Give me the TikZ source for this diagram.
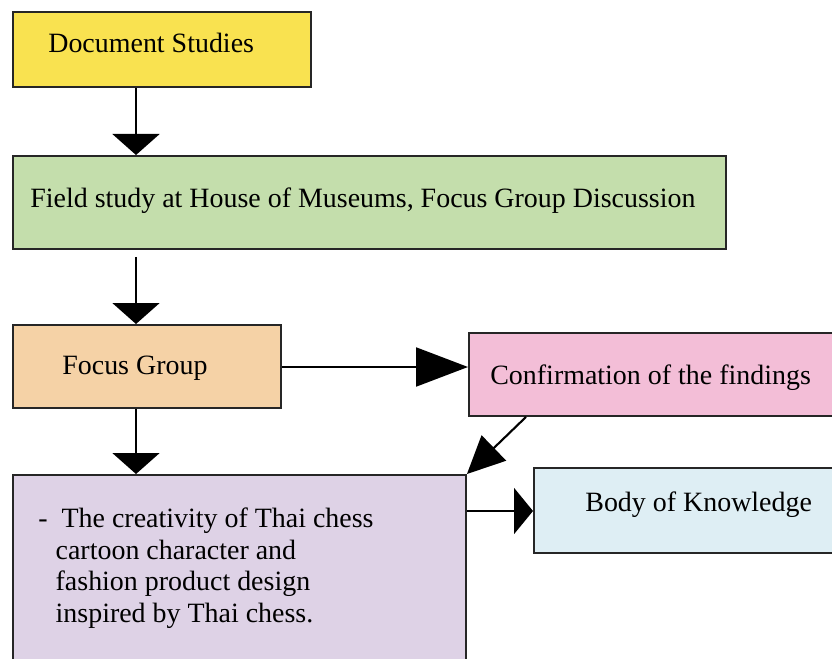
\documentclass[tikz,border=0pt]{standalone}
\usepackage{fontspec}
\setmainfont{Liberation Serif}
\usetikzlibrary{calc,arrows.meta}
\definecolor{docyellow}{RGB}{249,226,80}
\definecolor{fieldgreen}{RGB}{196,222,172}
\definecolor{focusorange}{RGB}{245,210,166}
\definecolor{confpink}{RGB}{243,190,215}
\definecolor{creatpurple}{RGB}{222,210,230}
\definecolor{bodyblue}{RGB}{222,238,244}
\tikzset{
  box/.style={draw=black!85, line width=1.1pt, rectangle, anchor=north west, inner sep=0pt},
  lbl/.style={anchor=west, inner sep=0pt, font=\fontsize{15.9}{18.2}\selectfont},
  flow/.style={line width=1.2pt, -{Triangle[width=0.94cm,length=0.42cm]}},
}

\begin{document}
\begin{tikzpicture}
\useasboundingbox (0,0) rectangle (16.64,13.16);
\clip (0,0) rectangle (16.64,13.16);
% boxes
\node[box, fill=docyellow, minimum width=5.96cm, minimum height=1.5cm] (doc) at (0.24,12.94) {};
\node[box, fill=fieldgreen, minimum width=14.26cm, minimum height=1.86cm] (field) at (0.24,10.06) {};
\node[box, fill=focusorange, minimum width=5.36cm, minimum height=1.66cm] (focus) at (0.24,6.68) {};
\node[box, fill=confpink, minimum width=7.6cm, minimum height=1.66cm] (conf) at (9.36,6.52) {};
\node[box, fill=creatpurple, minimum width=9.06cm, minimum height=4.2cm] (creat) at (0.24,3.68) {};
\node[box, fill=bodyblue, minimum width=6.6cm, minimum height=1.7cm] (body) at (10.66,3.82) {};

% texts
\node[lbl] (doct) at ($(doc.north west)+(0.72,-0.63)$) {Document Studies};
\node[lbl] (fieldt) at ($(field.north west)+(0.36,-0.91)$) {Field study at House of Museums, Focus Group Discussion};
\node[lbl] (focust) at ($(focus.north west)+(1.0,-0.88)$) {Focus Group};
\node[lbl] (conft) at ($(conf.north west)+(0.44,-0.91)$) {Confirmation of the findings};
\node[lbl, anchor=north west, align=left] (creatt) at ($(creat.north west)+(0.52,-0.66)$)
  {-\hspace{0.5em}The creativity of Thai chess\\
   \hspace{0.62em}cartoon character and\\
   \hspace{0.62em}fashion product design\\
   \hspace{0.62em}inspired by Thai chess.};
\node[lbl] (bodyt) at ($(body.north west)+(1.04,-0.75)$) {Body of Knowledge};

% arrows
\draw[flow] (doc.south -| 2.72,0) -- (field.north -| 2.72,0);
\draw[flow, shorten <=0.14cm] (field.south -| 2.72,0) -- (focus.north -| 2.72,0);
\draw[flow] (focus.south -| 2.72,0) -- (creat.north -| 2.72,0);
\draw[line width=1.2pt, -{Triangle[width=0.78cm,length=1.04cm]}] (focus.east |- 0,5.82) -- (conf.west |- 0,5.82);
\draw[line width=1.2pt, -{Triangle[width=0.7cm,length=0.75cm]}] ($(conf.south west)+(1.16,0)$) -- (creat.north east);
\draw[line width=1.2pt, -{Triangle[width=0.92cm,length=0.38cm]}] (creat.east |- 0,2.94) -- (body.west |- 0,2.94);
\end{tikzpicture}
\end{document}
